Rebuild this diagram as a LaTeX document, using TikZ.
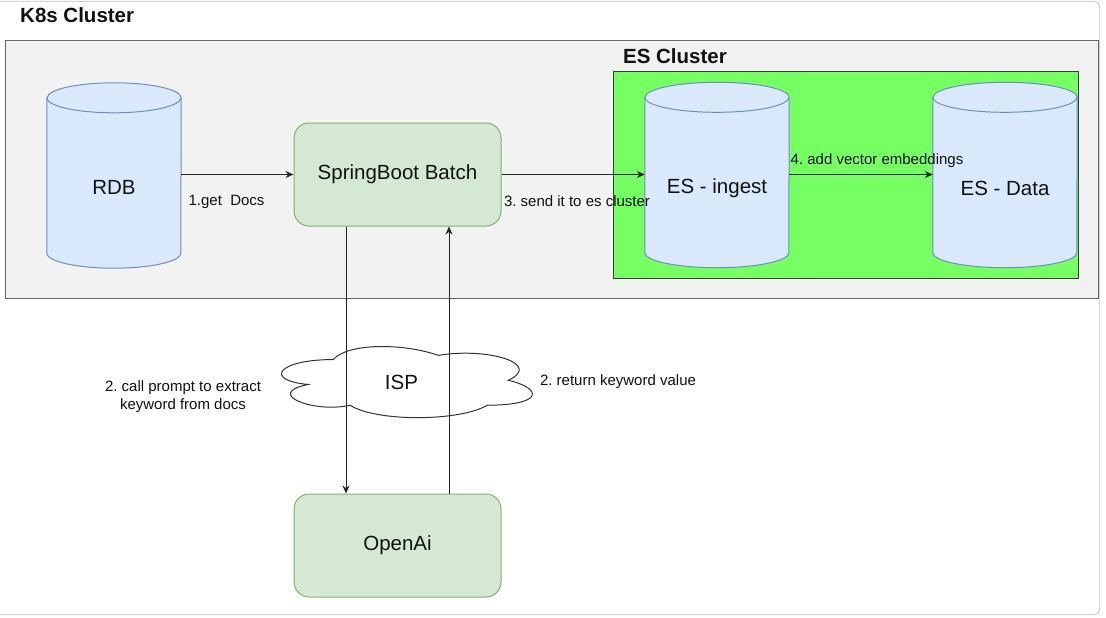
\documentclass[tikz,border=0pt]{standalone}
\usepackage{fontspec}
\setmainfont{Liberation Sans}
\frenchspacing
\usetikzlibrary{arrows.meta,calc}
\definecolor{dbfill}{HTML}{DAE8FC}
\definecolor{dbline}{HTML}{6C8EBF}
\definecolor{gfill}{HTML}{D5E8D4}
\definecolor{gline}{HTML}{82B366}
\definecolor{k8sfill}{HTML}{F2F2F2}
\definecolor{k8sline}{HTML}{666666}
\definecolor{esfill}{HTML}{75FF63}
\definecolor{esline}{HTML}{3A3A3A}
\definecolor{frameline}{HTML}{D0D4D8}
\definecolor{txt}{HTML}{111111}
\tikzset{
  big/.style={font=\fontsize{20.5}{24}\selectfont, text=txt},
  bigbold/.style={font=\fontsize{20.5}{24}\selectfont\bfseries, text=txt},
  small/.style={font=\fontsize{15}{18.5}\selectfont, text=txt, inner sep=0pt},
  procbox/.style={draw=gline, fill=gfill, rounded corners=15pt, minimum width=207pt, minimum height=103pt, line width=1pt, big, inner sep=0pt},
  dbbox/.style={minimum width=#1, minimum height=185pt, inner sep=0pt},
  dbshape/.style={draw=dbline, fill=dbfill, line width=1pt},
  conn/.style={draw=black!85, line width=1pt, -{Stealth[length=8pt,width=7pt]}},
  cloudline/.style={draw=black!80, line width=1pt, fill=white},
}
\newcommand{\dbcylinder}[2]{%
  \path[dbshape] ([yshift=-15pt]#1.north west) -- ([yshift=15pt]#1.south west)
    arc[start angle=180,end angle=360,x radius=#2,y radius=15pt]
    -- ([yshift=-15pt]#1.north east)
    arc[start angle=0,end angle=180,x radius=#2,y radius=15pt] -- cycle;
  \draw[dbshape, fill=none] ([yshift=-15pt]#1.north west)
    arc[start angle=180,end angle=360,x radius=#2,y radius=15pt];
}
\begin{document}
\begin{tikzpicture}[x=1pt,y=-1pt]
\useasboundingbox (0,0) rectangle (1106,618);
\fill[white] (0,0) rectangle (1106,618);
\draw[frameline, line width=1pt, rounded corners=5pt] (-10,1.5) rectangle (1099.5,614.5);

% title
\node[bigbold, anchor=west, inner sep=0pt] (k8stitle) at (20,15) {K8s Cluster};

% K8s cluster container
\node[draw=k8sline, fill=k8sfill, line width=1pt, minimum width=1093.5pt, minimum height=257pt, inner sep=0pt] (k8s) at (551.75,169.5) {};

% ES cluster container
\node[draw=esline, fill=esfill, line width=1pt, minimum width=465pt, minimum height=206pt, inner sep=0pt] (es) at (845.5,175) {};
\node[bigbold, inner sep=0pt] (estitle) at (675,56) {ES Cluster};

% cylinders
\node[dbbox=134pt] (rdb) at (114,175.5) {};
\dbcylinder{rdb}{67pt}
\node[big] (rdbt) at (114,187) {RDB};

\node[dbbox=144pt] (esi) at (717,175) {};
\dbcylinder{esi}{72pt}
\node[big] (esit) at (717,188.5) {ES - ingest};

\node[dbbox=144pt] (esd) at (1005,175) {};
\dbcylinder{esd}{72pt}
\node[big] (esdt) at (1005,188.5) {ES - Data};

% process boxes
\node[procbox] (sb) at (397.5,174.5) {SpringBoot Batch};
\node[procbox] (oa) at (397.5,545.5) {OpenAi};

% cloud
\node[minimum width=280pt, minimum height=83pt, inner sep=0pt] (isp) at (403.5,380.5) {};
\begin{scope}[shift={(isp.north west)}, x=280pt, y=-83pt]
\path[cloudline] (0.25,0.25) .. controls (0.05,0.25) and (0,0.5) .. (0.16,0.55)
  .. controls (0,0.66) and (0.18,0.9) .. (0.31,0.8)
  .. controls (0.4,1) and (0.7,1) .. (0.8,0.8)
  .. controls (1,0.8) and (1,0.6) .. (0.875,0.5)
  .. controls (1,0.3) and (0.8,0.1) .. (0.625,0.2)
  .. controls (0.5,0.05) and (0.3,0.05) .. (0.25,0.25) -- cycle;
\end{scope}
\node[big] (ispt) at (401.5,382) {ISP};

% connectors
\draw[conn] (rdb.east |- sb.west) -- (sb.west);
\node[small] (l1) at (226.5,201.5) {1.get\ \ Docs};

\draw[conn] (sb.east) -- (sb.east -| esi.west);
\node[small] (l3) at (577,201.5) {3. send it to es cluster};

\draw[conn] (esi.east |- sb.east) -- (esd.west |- sb.east);
\node[small] (l4) at (877,160.5) {4. add vector embeddings};

\draw[conn] ([xshift=-51.5pt]sb.south) -- ([xshift=-51.5pt]oa.north);
\draw[conn] ([xshift=51.5pt]oa.north) -- ([xshift=51.5pt]sb.south);

\node[small, align=center] (l2a) at (183,396.5) {2. call prompt to extract\\keyword from docs};
\node[small] (l2b) at (618,381.5) {2. return keyword value};
\end{tikzpicture}
\end{document}
